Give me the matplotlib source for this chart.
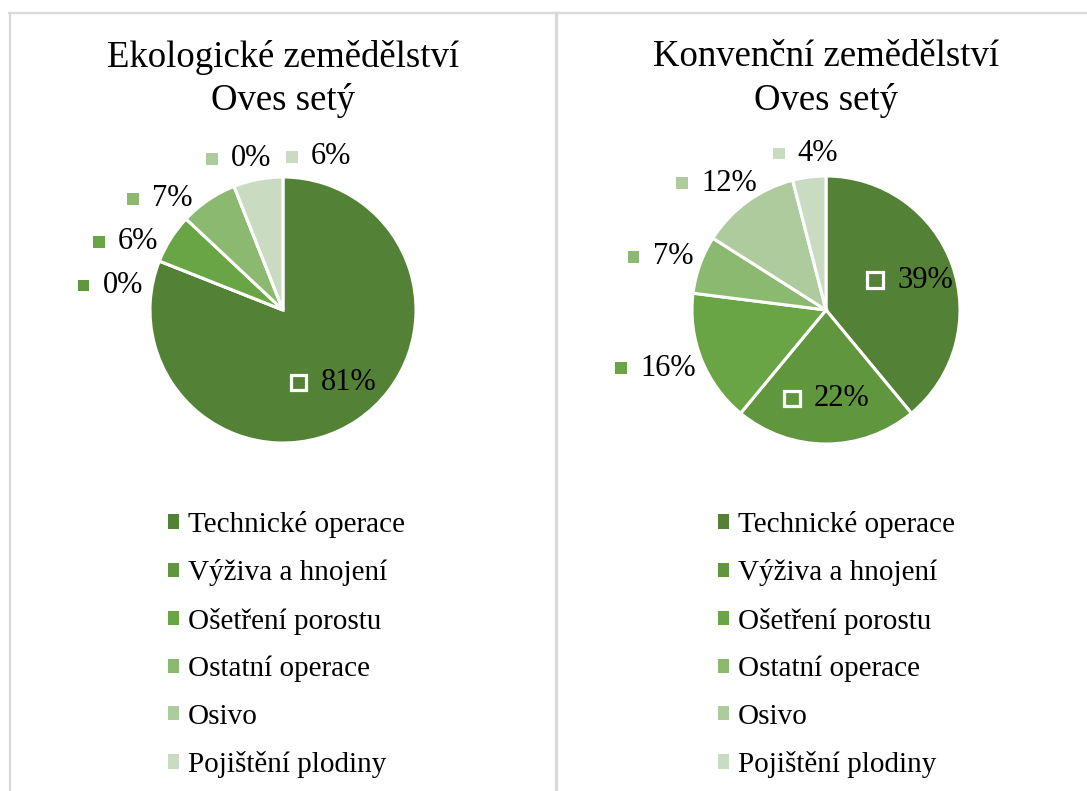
import numpy as np
import matplotlib
matplotlib.use('Agg')
import matplotlib.pyplot as plt
from matplotlib.patches import Rectangle, Patch
from matplotlib.lines import Line2D
from matplotlib.offsetbox import AnnotationBbox, HPacker, DrawingArea, TextArea

plt.rcParams['font.family'] = ['Liberation Serif', 'DejaVu Serif']

W, H = 1087, 791

categories = ['Technické operace', 'Výživa a hnojení', 'Ošetření porostu',
              'Ostatní operace', 'Osivo', 'Pojištění plodiny']
eko_values = [81, 0, 6, 7, 0, 6]
konv_values = [39, 22, 16, 7, 12, 4]
titles = ['Ekologické zemědělství\nOves setý', 'Konvenční zemědělství\nOves setý']
colors = ['#538135', '#60963e', '#6aa545', '#8bb970', '#aecb9e', '#c9dbc0']

# which labels sit inside the slice (big ones), the rest go outside
inside_min = 20


def px_axes(fig, cx, cy, half):
    return fig.add_axes([(cx - half) / W, 1 - (cy + half) / H, 2 * half / W, 2 * half / H])


def label_box(text, color, inside):
    if inside:
        da = DrawingArea(14, 14, 0, 0)
        da.add_artist(Rectangle((1.5, 1.5), 11, 11, fc=color, ec='white', lw=2.3))
    else:
        da = DrawingArea(9, 9, 0, 0)
        da.add_artist(Rectangle((0, 0), 8.6, 8.6, fc=color, ec='none'))
    ta = TextArea(text, textprops=dict(fontsize=22, color='black'))
    return HPacker(children=[da, ta], align='center', pad=0, sep=9)


def put_label(ax, v, color, t, inside):
    box = label_box(f'{v}%', color, inside)
    if inside:
        r = 0.66
        align = (0.5, 0.5)
    else:
        r = 1.07
        align = (0.5 - 0.5 * np.cos(t), 0.5 - 0.5 * np.sin(t))
    ab = AnnotationBbox(box, (r * np.cos(t), r * np.sin(t)), xycoords='data',
                        box_alignment=align, frameon=False, pad=0, annotation_clip=False)
    ax.add_artist(ab)
    return ab


def overlap(b1, b2, pad=13):
    return not (b1.x1 + pad < b2.x0 or b2.x1 + pad < b1.x0 or
                b1.y1 + pad < b2.y0 or b2.y1 + pad < b1.y0)


def draw_pie(fig, cx, cy, radius, values, title):
    half = 250
    ax = px_axes(fig, cx, cy, half)
    wedges, _ = ax.pie(values, colors=colors, startangle=90, counterclock=False,
                       radius=1, wedgeprops=dict(edgecolor='white', linewidth=2.2))
    lim = half / radius
    ax.set_xlim(-lim, lim)
    ax.set_ylim(-lim, lim)
    ax.set_aspect('equal')
    ax.axis('off')

    mids = [np.deg2rad((w.theta1 + w.theta2) / 2) for w in wedges]
    for i, v in enumerate(values):
        if v >= inside_min:
            put_label(ax, v, colors[i], mids[i], True)

    # outside labels: nudge apart until their boxes stop overlapping
    outer = [i for i, v in enumerate(values) if v < inside_min]
    ang = {i: mids[i] for i in outer}
    order = sorted(outer, key=lambda i: ang[i] % (2 * np.pi))
    labels = {}
    step = np.deg2rad(0.5)
    for _ in range(150):
        for ab in labels.values():
            ab.remove()
        labels = {i: put_label(ax, values[i], colors[i], ang[i], False) for i in outer}
        fig.canvas.draw()
        rend = fig.canvas.get_renderer()
        ext = {i: labels[i].get_window_extent(rend) for i in outer}
        moved = False
        for j, k in zip(order[:-1], order[1:]):
            if overlap(ext[j], ext[k]):
                ang[j] -= step
                ang[k] += step
                moved = True
        if not moved:
            break

    fig.text(cx / W, 1 - 40 / H, title, ha='center', va='top', fontsize=26.5,
             linespacing=1.3)
    return ax


fig = plt.figure(figsize=(W / 100, H / 100), dpi=100)

draw_pie(fig, 283, 310, 133, eko_values, titles[0])
draw_pie(fig, 826, 310, 134, konv_values, titles[1])

handles = [Patch(facecolor=c, edgecolor='none') for c in colors]
for x0 in [168, 718]:
    fig.legend(handles, categories, loc='upper left',
               bbox_to_anchor=(x0 / W, 1 - 511 / H), frameon=False, fontsize=21,
               handlelength=0.38, handleheight=0.38, handletextpad=0.3,
               labelspacing=0.73, borderpad=0, borderaxespad=0)

# panel borders
border = dict(color='#d9d9d9', lw=1.6, transform=fig.transFigure)
fig.add_artist(Line2D([9 / W, 1], [1 - 12.5 / H, 1 - 12.5 / H], **border))
fig.add_artist(Line2D([9.5 / W, 9.5 / W], [0, 1 - 12.5 / H], **border))
fig.add_artist(Line2D([555.5 / W, 555.5 / W], [0, 1 - 12.5 / H], lw=2.4, color='#d9d9d9',
                      transform=fig.transFigure))

fig.savefig('out.png', dpi=100)
